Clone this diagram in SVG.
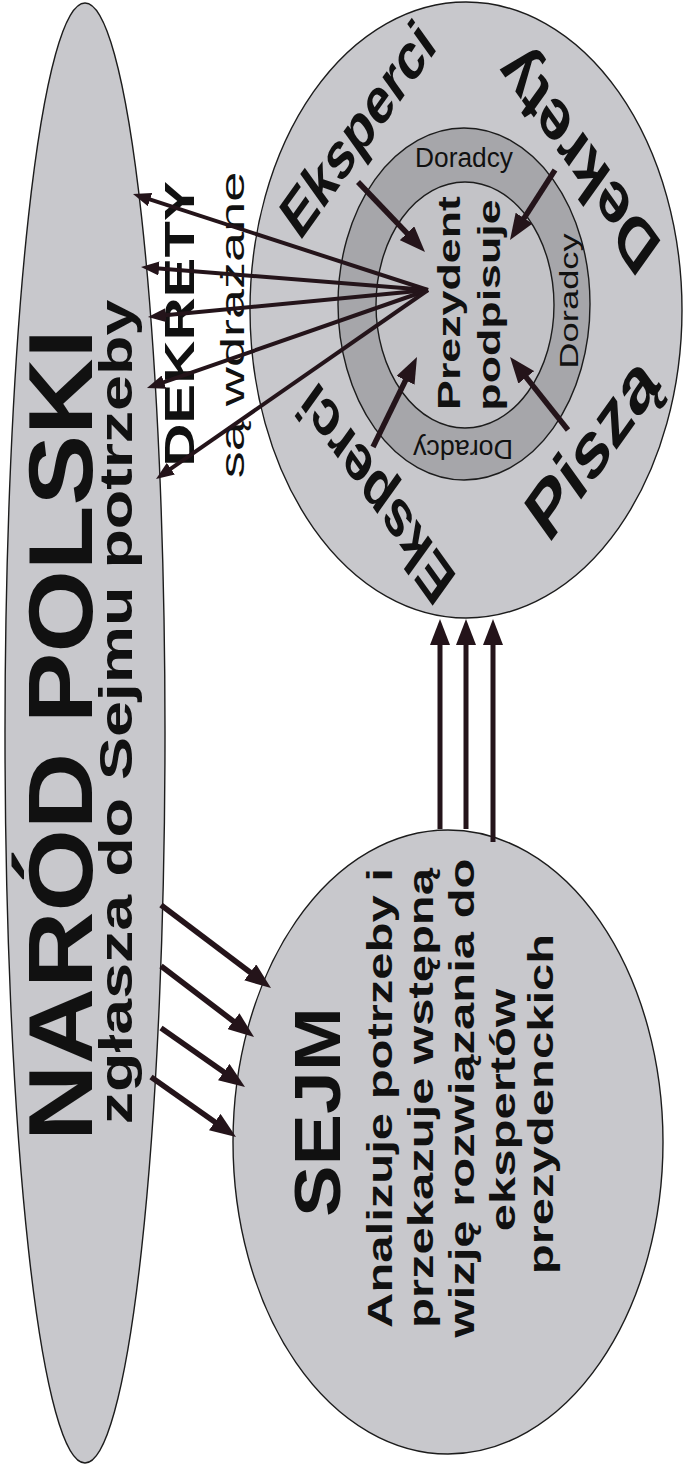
<svg xmlns="http://www.w3.org/2000/svg" width="683" height="1468" viewBox="0 0 683 1468">
<defs>
<style>
.shape{stroke:#1c1c1c;stroke-width:1.4}
.light{fill:#c8c8cc}
.ring{fill:#a6a6aa}
.inner{fill:#c3c3c7}
text{font-family:"Liberation Sans",Arial,sans-serif;fill:#111}
.b{font-weight:bold}
.conn{stroke:#24141a;fill:none}
.fan{stroke-width:4;marker-end:url(#hS)}
.thick{stroke-width:5.5;marker-end:url(#hL)}
.up{stroke-width:5;marker-end:url(#hL)}
</style>
<marker id="hS" markerUnits="userSpaceOnUse" viewBox="0 0 18 14" markerWidth="18" markerHeight="14" refX="6" refY="7" orient="auto"><path d="M0,0 L18,7 L0,14 z" fill="#24141a"/></marker>
<marker id="hL" markerUnits="userSpaceOnUse" viewBox="0 0 26 20" markerWidth="26" markerHeight="20" refX="14" refY="10" orient="auto"><path d="M0,0 L26,10 L0,20 z" fill="#24141a"/></marker>
</defs>
<rect width="683" height="1468" fill="#ffffff"/>

<g id="node-narod">
<ellipse class="shape light" cx="85" cy="733" rx="80" ry="730"/>
<text class="b" font-size="90" text-anchor="middle" textLength="580" lengthAdjust="spacingAndGlyphs" transform="translate(92,735) scale(1,1.4) rotate(-90)">NARÓD POLSKI</text>
<text class="b" font-size="46" text-anchor="middle" textLength="589" lengthAdjust="spacingAndGlyphs" transform="translate(132,712) scale(1,1.4) rotate(-90)">zgłasza do Sejmu potrzeby</text>
</g>

<g id="node-sejm">
<ellipse class="shape light" cx="448" cy="1142" rx="215" ry="312"/>
<text class="b" font-size="64" text-anchor="middle" textLength="150" lengthAdjust="spacingAndGlyphs" transform="translate(340,1112) scale(1,1.4) rotate(-90)">SEJM</text>
<text class="b" font-size="35" text-anchor="middle" transform="translate(392,1098) scale(1,1.4) rotate(-90)">Analizuje potrzeby i</text>
<text class="b" font-size="35" text-anchor="middle" transform="translate(433,1098) scale(1,1.4) rotate(-90)">przekazuje wstępną</text>
<text class="b" font-size="35" text-anchor="middle" transform="translate(474,1098) scale(1,1.4) rotate(-90)">wizję rozwiązania do</text>
<text class="b" font-size="35" text-anchor="middle" transform="translate(515,1110) scale(1,1.4) rotate(-90)">ekspertów</text>
<text class="b" font-size="35" text-anchor="middle" transform="translate(553,1104) scale(1,1.4) rotate(-90)">prezydenckich</text>
</g>

<g id="node-prezydent">
<ellipse class="shape light" cx="466" cy="310" rx="216" ry="308"/>
<ellipse class="shape ring" cx="464" cy="304" rx="126" ry="176"/>
<ellipse class="shape inner" cx="465" cy="305" rx="89" ry="123"/>
<text class="b" font-size="32" text-anchor="middle" transform="translate(460,303) scale(1,1.4) rotate(-90)">Prezydent</text>
<text class="b" font-size="32" text-anchor="middle" transform="translate(500,305) scale(1,1.4) rotate(-90)">podpisuje</text>
<text font-size="27" text-anchor="middle" x="464" y="167" textLength="98" lengthAdjust="spacingAndGlyphs">Doradcy</text>
<text font-size="26" text-anchor="middle" transform="translate(578,301) scale(1,1.4) rotate(-90)">Doradcy</text>
<text font-size="27" text-anchor="middle" textLength="100" lengthAdjust="spacingAndGlyphs" transform="translate(463,440) rotate(180)">Doradcy</text>
<text class="b" font-size="47" text-anchor="middle" textLength="196" lengthAdjust="spacingAndGlyphs" transform="translate(369,145) scale(1,1.4) rotate(-45)">Eksperci</text>
<text class="b" font-size="47" text-anchor="middle" textLength="200" lengthAdjust="spacingAndGlyphs" transform="translate(387,478) scale(1,1.4) rotate(-135)">Eksperci</text>
<text class="b" font-size="52" text-anchor="middle" textLength="204" lengthAdjust="spacingAndGlyphs" transform="translate(591,143) scale(1,1.4) rotate(-135)">Dekrety</text>
<text class="b" font-size="56" text-anchor="middle" textLength="160" lengthAdjust="spacingAndGlyphs" transform="translate(605,466) scale(1,1.4) rotate(-45)">Piszą</text>
</g>

<g id="label-dekrety">
<text class="b" font-size="43" text-anchor="middle" textLength="204" lengthAdjust="spacingAndGlyphs" transform="translate(194,324) scale(1,1.4) rotate(-90)">DEKRETY</text>
<text font-size="33" text-anchor="middle" textLength="219" lengthAdjust="spacingAndGlyphs" transform="translate(244,325) scale(1,1.4) rotate(-90)">są wdrażane</text>
</g>

<g id="connectors" class="conn">
<path class="fan" d="M428,290 L144.4,197.7"/>
<path class="fan" d="M428,290 L153,268"/>
<path class="fan" d="M428,290 L159.9,315.8"/>
<path class="fan" d="M428,290 L158.3,384.1"/>
<path class="fan" d="M428,290 L165.9,472.1"/>
<path class="up" d="M440,829 L440,631"/>
<path class="up" d="M466,829 L466,631"/>
<path class="up" d="M493,842 L493,631"/>
<path class="thick" d="M161,905 L261.4,980.8"/>
<path class="thick" d="M161,966 L244.5,1029.7"/>
<path class="thick" d="M161,1028 L235.2,1080.1"/>
<path class="thick" d="M151,1077 L226.2,1130.1"/>
<path class="thick" d="M358,182 L416.7,243.3"/>
<path class="thick" d="M555,170 L516.5,229.9"/>
<path class="thick" d="M373,447 L411.7,367.8"/>
<path class="thick" d="M568,430 L517.5,366.4"/>
</g>
</svg>
